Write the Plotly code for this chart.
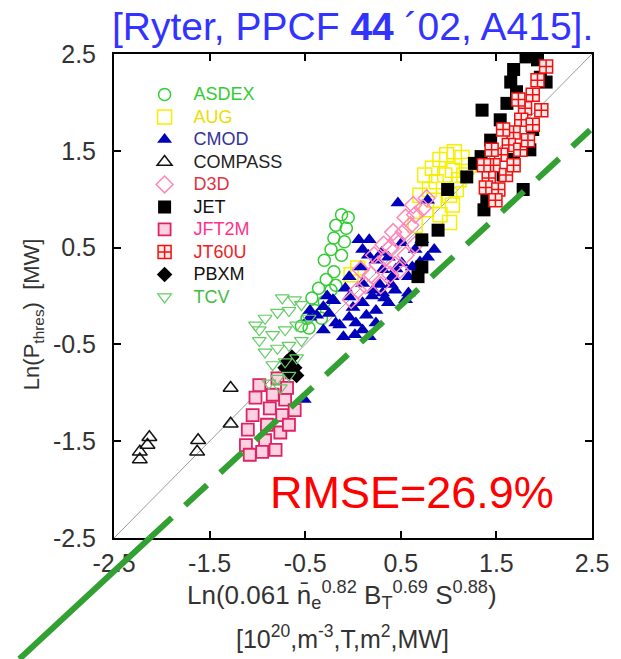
import plotly.graph_objects as go

# ---------------- data ----------------
tick_vals = [-2.5, -1.5, -0.5, 0.5, 1.5, 2.5]
tick_text = ["-2.5", "-1.5", "-0.5", "0.5", "1.5", "2.5"]
axis_range = [-2.5, 2.5]

asdex_x = [-0.12, -0.18, -0.07, -0.20, -0.09, -0.23, -0.12, -0.30, -0.05,
           -0.20, -0.28, -0.36, -0.23, -0.43, -0.30, -0.40, -0.48, -0.33, -0.46, -0.18, -0.54]
asdex_y = [0.84, 0.73, 0.70, 0.60, 0.56, 0.48, 0.42, 0.37, 0.81,
           0.25, 0.17, 0.08, 0.06, -0.02, -0.06, -0.15, -0.23, -0.23, -0.33, 0.11, -0.31]

aug_x = [0.75, 0.83, 0.91, 0.98, 1.06, 1.14, 1.21, 0.80, 0.87, 0.96, 1.04, 1.11,
         0.85, 1.01, 1.04, 0.91, 1.01, 1.08, 1.16, 0.70, 0.77, -0.02, 0.05, 0.65]
aug_y = [1.25, 1.32, 1.41, 1.46, 1.49, 1.43, 1.35, 1.10, 1.18, 1.25, 1.30, 1.20,
         0.99, 1.04, 0.94, 0.84, 0.76, 1.10, 1.25, 1.04, 0.89, 0.22, 0.29, 0.73]

cmod_x = [-0.45, -0.31, -0.21, -0.18, -0.04, 0.10, 0.17, -0.10, -0.04, 0.10, 0.24, 0.31,
          0.10, -0.04, 0.06, 0.10, 0.24, 0.37, 0.51, 0.58, 0.41, 0.31, 0.78, 0.85, 0.72,
          0.47, 0.78, 0.58, 0.44, 0.21, -0.31, -0.45, -0.25, 0.03, 0.24, 0.37, 0.55,
          0.17, 0.51, 0.65, -0.51,
          -0.38, -0.14, 0.00, 0.14, 0.20, 0.28, 0.33, 0.45, 0.62, 0.70, -0.27, -0.08,
          0.08, 0.16, 0.30, 0.40, 0.02, -0.20]
cmod_y = [-0.15, -0.11, -0.04, -0.28, -0.22, -0.35, -0.42, -0.42, -0.01, -0.07, -0.15, 0.03,
          0.13, 0.20, 0.58, 0.48, 0.37, 0.40, 0.34, 0.20, 0.20, 0.27, 0.40, 0.48, 0.58,
          0.96, 0.99, 0.03, 0.06, 0.06, -0.35, -0.22, -0.18, -0.28, -0.28, -0.07, -0.04,
          0.58, 0.55, 0.48, -1.07,
          -0.20, -0.30, -0.12, -0.20, 0.00, 0.12, -0.02, 0.28, 0.30, 0.35, 0.00, 0.08,
          0.30, 0.42, 0.45, 0.12, -0.40, -0.05]

compass_x = [-2.23, -2.23, -2.15, -2.13, -1.62, -1.63, -1.28, -1.28]
compass_y = [-1.69, -1.61, -1.54, -1.46, -1.49, -1.61, -0.95, -1.32]

d3d_x = [-0.02, 0.05, 0.13, 0.19, 0.26, 0.34, 0.39, 0.46, 0.53, 0.60, 0.65, 0.73, 0.77,
         0.08, 0.22, 0.32, 0.42, 0.55, 0.63, 0.44, 0.55, 0.65, 0.29, 0.39, 0.49]
d3d_y = [-0.04, 0.06, 0.11, 0.22, 0.32, 0.39, 0.50, 0.58, 0.66, 0.73, 0.84, 0.91, 1.01,
         0.27, 0.42, 0.53, 0.66, 0.81, 0.94, 0.32, 0.42, 0.53, 0.11, 0.22, 0.27]

jet_x = [1.81, 1.68, 1.93, 1.65, 1.71, 1.96, 2.02, 1.61, 1.35, 1.54, 1.44, 1.34, 1.85,
         1.78, 1.40, 1.37, 1.19, 0.99, 0.89, 0.72, 1.27, 0.72, 0.68, 1.68, 1.88, 1.57]
jet_y = [2.47, 2.34, 2.44, 2.21, 2.11, 2.26, 2.21, 1.99, 1.92, 1.82, 1.61, 1.44, 1.51,
         1.10, 0.99, 0.89, 1.23, 1.10, 0.68, 0.58, 1.37, 0.30, 0.20, 1.41, 1.72, 1.25]

jft2m_x = [-1.12, -1.10, -1.05, -1.02, -0.98, -0.92, -0.90, -0.87, -0.84, -0.79,
           -0.76, -0.74, -0.71, -0.69, -0.64, -0.61, -0.95, -1.08, -0.81, -0.67]
jft2m_y = [-1.54, -1.38, -1.23, -1.05, -0.92, -1.49, -1.33, -1.16, -1.02, -0.85,
           -1.41, -1.23, -1.07, -0.95, -0.79, -1.18, -1.61, -1.64, -1.59, -1.33]

jt60u_x = [2.02, 1.93, 1.88, 1.80, 1.76, 1.68, 1.63, 1.55, 1.47, 1.42, 1.39, 1.52,
           1.60, 1.68, 1.75, 1.83, 1.88, 1.97, 1.49, 1.45, 1.57, 1.73, 1.37]
jt60u_y = [2.37, 2.23, 2.08, 1.94, 1.82, 1.69, 1.56, 1.46, 1.35, 1.22, 1.12, 1.10,
           1.25, 1.35, 1.51, 1.61, 1.77, 1.92, 0.99, 1.51, 1.72, 2.03, 1.35]

pbxm_x = [-0.69, -0.64, -0.61, -0.66, -0.59, -0.71]
pbxm_y = [-0.68, -0.63, -0.74, -0.79, -0.82, -0.74]

tcv_x = [-1.02, -0.92, -0.79, -0.67, -0.54, -0.98, -0.84, -0.71, -0.59, -0.46,
         -0.92, -0.79, -0.67, -0.54, -0.84, -0.71, -0.59, -0.79, -0.67, -0.98, -0.74, -0.61,
         -0.88, -0.76]
tcv_y = [-0.30, -0.23, -0.17, -0.15, -0.09, -0.46, -0.40, -0.35, -0.30, -0.23,
         -0.58, -0.54, -0.51, -0.46, -0.71, -0.68, -0.64, -0.85, -0.82, -0.35, -0.02, -0.04,
         -0.90, -0.95]

diag_x = [-2.5, 2.5]
diag_y = [-2.5, 2.5]

# fitted scaling line (green): lower-left end, crossing of frame, upper-right end
fit_x = [-3.49, -2.125, 2.48]
fit_y = [-3.75, -2.5, 1.715]

# ---------------- styles ----------------
series = [
    ("ASDEX", asdex_x, asdex_y, dict(symbol="circle-open", size=12, color="#33cc33", line=dict(width=1.5)), "#33cc33"),
    ("AUG", aug_x, aug_y, dict(symbol="square-open", size=14, color="#f5f000", line=dict(width=1.5)), "#eedd00"),
    ("CMOD", cmod_x, cmod_y, dict(symbol="triangle-up", size=13, color="#0000bb"), "#333399"),
    ("COMPASS", compass_x, compass_y, dict(symbol="triangle-up-open", size=13, color="#111111", line=dict(width=1.5)), "#222222"),
    ("D3D", d3d_x, d3d_y, dict(symbol="diamond-open", size=13, color="#ff88bb", line=dict(width=1.5)), "#dd3344"),
    ("JET", jet_x, jet_y, dict(symbol="square", size=13, color="#000000"), "#111111"),
    ("JFT2M", jft2m_x, jft2m_y, dict(symbol="square", size=12, color="#ffd0e0", line=dict(width=1.8, color="#dd2266")), "#ff3388"),
    ("JT60U", jt60u_x, jt60u_y, dict(symbol="square-cross", size=13, color="#ffe8e8", line=dict(width=1.5, color="#ee1111")), "#ee2222"),
    ("PBXM", pbxm_x, pbxm_y, dict(symbol="diamond", size=12, color="#000000"), "#111111"),
    ("TCV", tcv_x, tcv_y, dict(symbol="triangle-down-open", size=12, color="#66cc66", line=dict(width=1.2)), "#44bb44"),
]

fig = go.Figure()

fig.add_trace(go.Scatter(x=diag_x, y=diag_y, mode="lines", line=dict(color="#999999", width=1),
                         showlegend=False, hoverinfo="skip"))

for name, xs, ys, mk, tcol in series:
    fig.add_trace(go.Scatter(
        x=xs, y=ys, mode="markers", marker=mk,
        name=f"<span style='color:{tcol};font-size:18px'>\u2002{name}</span>",
    ))

# green line: drawn in paper coords from data via axis mapping
def px(v):
    return (v - axis_range[0]) / (axis_range[1] - axis_range[0])

green = "#33a033"
fig.add_shape(type="line", xref="paper", yref="paper",
              x0=px(fit_x[0]), y0=px(fit_y[0]), x1=px(fit_x[1]), y1=px(fit_y[1]),
              line=dict(color=green, width=6))
fig.add_shape(type="line", xref="paper", yref="paper",
              x0=px(fit_x[1]), y0=px(fit_y[1]), x1=px(fit_x[2]), y1=px(fit_y[2]),
              line=dict(color=green, width=6, dash="30px,18px"))

font_main = "Liberation Sans, Arial, sans-serif"

axis_common = dict(
    range=axis_range, tickvals=tick_vals, ticktext=tick_text,
    showgrid=False, zeroline=False, showline=True, linecolor="black", linewidth=2,
    mirror="ticks", ticks="inside", ticklen=7, tickwidth=1.5, tickcolor="black",
    tickfont=dict(family=font_main, size=25, color="#333333"),
)

fig.update_layout(
    width=621, height=659,
    margin=dict(l=114, r=21, t=54, b=121),
    paper_bgcolor="white", plot_bgcolor="white",
    xaxis=dict(**axis_common, ticklabelstandoff=2),
    yaxis=dict(**axis_common, ticklabelstandoff=11),
    legend=dict(x=0.064, y=0.95, xanchor="left", yanchor="top",
                bgcolor="rgba(0,0,0,0)", borderwidth=0,
                font=dict(family=font_main, size=15), itemwidth=30,
                tracegroupgap=0),
    showlegend=True,
)

fig.add_annotation(text="[Ryter, PPCF <b>44</b> \u00b402, A415].", xref="paper", yref="paper",
                   x=0.498, y=1.056, xanchor="center", yanchor="middle", showarrow=False,
                   font=dict(family=font_main, size=39, color="#3333ff"))
fig.add_annotation(text="RMSE=26.9%", xref="paper", yref="paper",
                   x=0.623, y=0.095, xanchor="center", yanchor="middle", showarrow=False,
                   font=dict(family=font_main, size=45, color="#ff0000"))
fig.add_annotation(text="Ln(P<sub>thres</sub>)  [MW]", xref="paper", yref="paper",
                   x=-0.169, y=0.463, xanchor="center", yanchor="middle", showarrow=False,
                   textangle=-90,
                   font=dict(family=font_main, size=22, color="#333333"))
fig.add_annotation(text="Ln(0.061 n\u0304<sub>e</sub><sup>0.82</sup> B<sub>T</sub><sup>0.69</sup> S<sup>0.88</sup>)",
                   xref="paper", yref="paper", x=0.477, y=-0.118, xanchor="center", yanchor="middle",
                   showarrow=False,
                   font=dict(family=font_main, size=26, color="#333333"))
fig.add_annotation(text="[10<sup>20</sup>,m<sup>-3</sup>,T,m<sup>2</sup>,MW]",
                   xref="paper", yref="paper", x=0.477, y=-0.205, xanchor="center", yanchor="middle",
                   showarrow=False,
                   font=dict(family=font_main, size=25, color="#333333"))

fig.write_html("out.html")
